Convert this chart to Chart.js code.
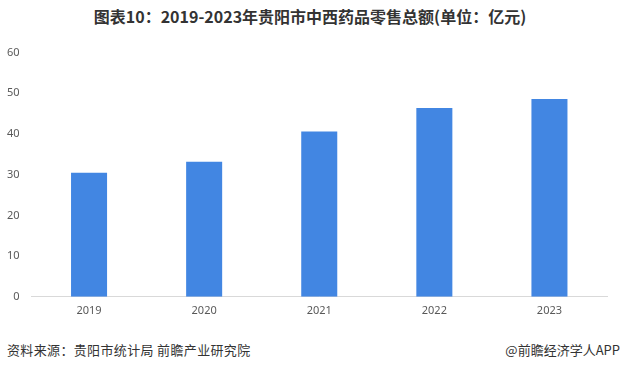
<!DOCTYPE html>
<html>
<head>
<meta charset="utf-8">
<script src="https://cdn.jsdelivr.net/npm/chart.js@4"></script>
<style>
  html, body { margin: 0; padding: 0; background: #fff; }
  #wrap { position: relative; width: 620px; height: 371px; overflow: hidden; font-family: "Noto Sans CJK SC", "Noto Sans", sans-serif; }
  #title { position: absolute; left: 0; top: 4px; width: 620px; text-align: center; font-size: 16px; font-weight: bold; color: #333; letter-spacing: 0px; }
  #chartBox { position: absolute; left: 0; top: 34px; width: 620px; height: 290px; }
  #src { position: absolute; left: 7px; top: 340px; font-size: 13px; color: #333; letter-spacing: 0.35px; }
  #brand { position: absolute; right: 0px; top: 340px; font-size: 13px; color: #333; }
</style>
</head>
<body>
<div id="wrap">
  <div id="title">图表10：2019-2023年贵阳市中西药品零售总额(单位：亿元)</div>
  <div id="chartBox"><canvas id="c"></canvas></div>
  <div id="src">资料来源：贵阳市统计局 前瞻产业研究院</div>
  <div id="brand">@前瞻经济学人APP</div>
</div>
<script>
const categories = ["2019", "2020", "2021", "2022", "2023"];
const retailSales = [30.5, 33.2, 40.6, 46.4, 48.6];
const yTicks = [0, 10, 20, 30, 40, 50, 60];

new Chart(document.getElementById('c'), {
  type: 'bar',
  data: {
    labels: categories,
    datasets: [{
      data: retailSales,
      backgroundColor: '#4286E2',
      barPercentage: 0.313,
      categoryPercentage: 1.0
    }]
  },
  options: {
    responsive: true,
    maintainAspectRatio: false,
    animation: false,
    layout: { padding: { top: 13, right: 13, left: 0, bottom: 0 } },
    plugins: { legend: { display: false }, tooltip: { enabled: false } },
    scales: {
      x: {
        grid: { display: false, drawTicks: false },
        border: { display: true, color: '#d9d9d9', width: 1 },
        ticks: { color: '#595959', font: { size: 11, family: 'Noto Sans, sans-serif' }, padding: 7 }
      },
      y: {
        min: 0, max: 60,
        afterBuildTicks: (s) => { s.ticks = yTicks.map(v => ({ value: v })); },
        afterFit: (s) => { s.width = 31.5; },
        grid: { display: false, drawTicks: false },
        border: { display: false },
        ticks: { color: '#595959', font: { size: 11, family: 'Noto Sans, sans-serif' }, padding: 12 }
      }
    }
  }
});
</script>
</body>
</html>
